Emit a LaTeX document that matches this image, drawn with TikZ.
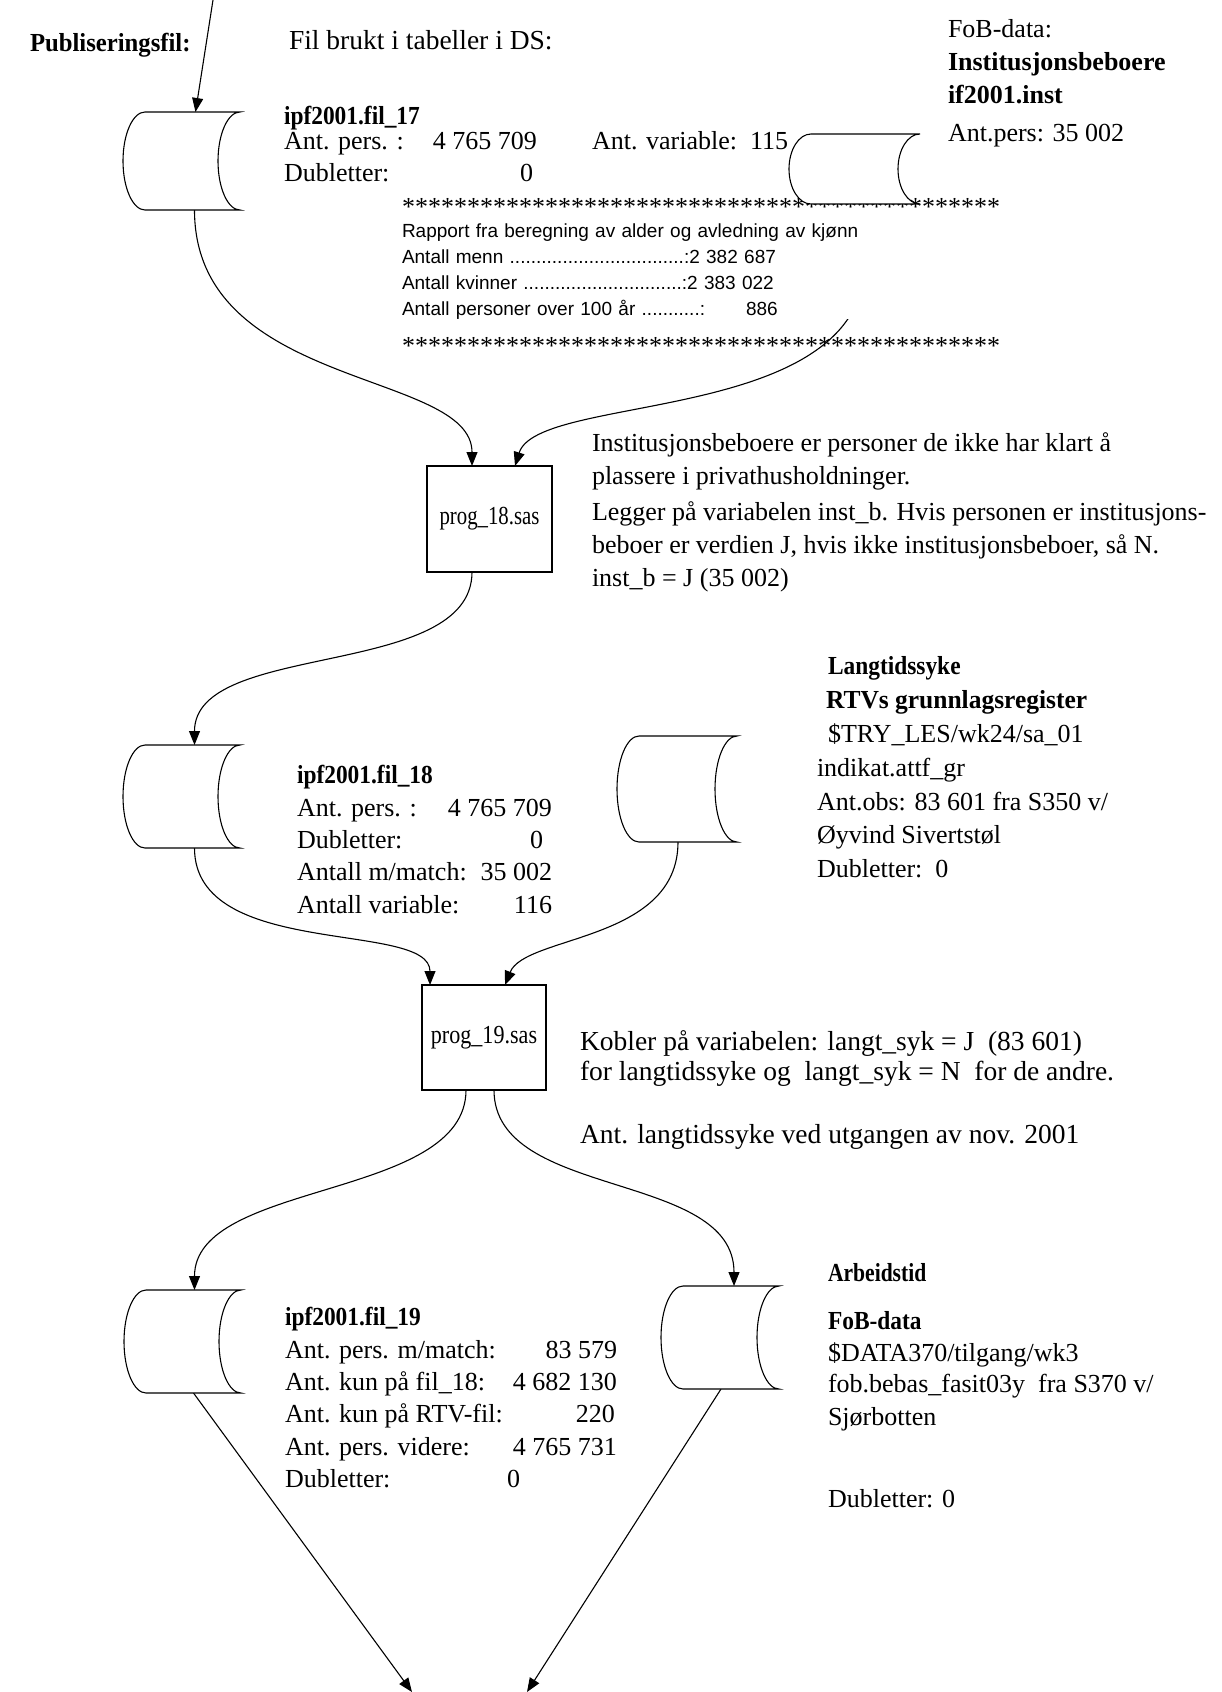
\documentclass[tikz,border=0pt]{standalone}
\usepackage{fontspec}
\usepackage{graphicx}
\setmainfont{Liberation Serif}
\setsansfont{Liberation Sans}
\usetikzlibrary{arrows.meta,calc}
\pgfdeclarelayer{bg}
\pgfsetlayers{bg,main}
\newcommand\rowlr[3]{\makebox[#1][l]{#2}\llap{#3}}
\newcommand\bt[2][0.9]{\scalebox{#1}[1]{\bfseries #2}}
% #1 node, #2 half height, #3 arc depth
\newcommand\cylshape[3]{\filldraw[cylline] ([xshift=#3]#1.north west) -- (#1.north east)
  arc[start angle=90,end angle=270,x radius=#3,y radius=#2]
  -- ([xshift=#3]#1.south west)
  arc[start angle=270,end angle=90,x radius=#3,y radius=#2] -- cycle;}
\tikzset{
  every node/.style={inner sep=0pt, outer sep=0pt},
  txt/.style={anchor=base west, align=left, font=\fontsize{26}{32}\selectfont},
  cylnode/.style={minimum width=117pt, minimum height=103pt},
  cylline/.style={fill=white, draw=black, line width=1.1pt},
  prog/.style={draw, line width=1.1pt, minimum width=125pt, minimum height=106pt, font=\fontsize{26}{32}\selectfont},
  conn/.style={line width=1.1pt, -{Triangle[length=14pt,width=11pt]}},
  rap/.style={anchor=north west, fill=white, text width=478pt, align=left, inner xsep=2pt, inner ysep=0pt, font=\sffamily\fontsize{19}{26}\selectfont},
  ast/.style={anchor=base west, font=\fontsize{26}{32}\selectfont},
}
\begin{document}
\begin{tikzpicture}[x=1pt,y=1pt]
\useasboundingbox (0,0) rectangle (1222,-1692);
% cylinder nodes
\node[cylnode, minimum height=98pt] (c1) at (181.5,-161) {};
\node[cylnode, minimum width=131pt, minimum height=70pt] (c2) at (854.5,-169) {};
\node[cylnode] (c3) at (181.5,-796.5) {};
\node[cylnode, minimum width=120pt, minimum height=106pt] (c4) at (677,-789) {};
\node[cylnode] (c5) at (182.5,-1341.5) {};
\node[cylnode, minimum width=118pt] (c6) at (720,-1337.5) {};
% process boxes
\node[prog] (p18) at (489.5,-519) {\scalebox{0.8}[1]{prog\_18.sas}};
\node[prog, minimum width=124pt, minimum height=105pt] (p19) at (484,-1037.5) {\scalebox{0.85}[1]{prog\_19.sas}};
% free ends
\coordinate (top) at (213,0);
\coordinate (e1) at (412,-1692);
\coordinate (e2) at (527,-1692);
% texts
\node[txt] (pub) at (30,-51) {\bt[0.95]{Publiseringsfil:}};
\node[txt,font=\fontsize{27.5}{32}\selectfont] (filds) at (289,-49) {Fil brukt i tabeller i DS:};
\node[txt] (t17) at (284,-181) {\bt{ipf2001.fil\_17}\\[-7pt]
  \rowlr{253pt}{Ant. pers. :}{4 765 709}\\
  \rowlr{249pt}{Dubletter:}{0}};
\node[txt] (antvar) at (592,-149) {Ant. variable:\ \ 115};
\node[txt,font=\fontsize{26}{33}\selectfont] (t2) at (948,-141.5) {FoB-data:\\
  \bt[1]{Institusjonsbeboere}\\
  \bt[1]{if2001.inst}\\[5pt]
  Ant.pers: 35 002};
\node[rap] (rap) at (400,-204) {\rule{0pt}{33pt}Rapport fra beregning av alder og avledning av kjønn\\
  Antall menn .................................:2 382 687\\
  Antall kvinner ..............................:2 383 022\\
  Antall personer over 100 år ...........:\hspace{41pt}886};
\node[ast] (ast1) at (402,-215) {**********************************************};
\node[ast] (ast2) at (402,-354) {**********************************************};
\node[txt,font=\fontsize{26}{33}\selectfont] (d18) at (592,-586.5) {Institusjonsbeboere er personer de ikke har klart å\\
  plassere i privathusholdninger.\\[3.5pt]
  Legger på variabelen inst\_b. Hvis personen er institusjons-\\
  beboer er verdien J, hvis ikke institusjonsbeboer, så N.\\
  inst\_b = J (35 002)};
\node[txt,font=\fontsize{26}{32.4}\selectfont] (t18) at (297,-913.2) {\bt{ipf2001.fil\_18}\\
  \rowlr{255pt}{Ant. pers. :}{4 765 709}\\
  \rowlr{246pt}{Dubletter:}{0}\\
  \rowlr{255pt}{Antall m/match:}{35 002}\\
  \rowlr{255pt}{Antall variable:}{116}};
\node[txt,font=\fontsize{26}{33.8}\selectfont] (tl) at (817,-877.6) {\hspace*{11pt}\bt{Langtidssyke}\\
  \hspace*{9pt}\bt[0.98]{RTVs grunnlagsregister}\\
  \hspace*{11pt}\$TRY\_LES/wk24/sa\_01\\
  indikat.attf\_gr\\
  Ant.obs: 83 601 fra S350 v/\\
  Øyvind Sivertstøl\\
  Dubletter:\ \ 0};
\node[txt,font=\fontsize{27.5}{30.3}\selectfont] (d19) at (580,-1143.2) {Kobler på variabelen: langt\_syk = J\ \ (83 601)\\
  for langtidssyke og\ \ langt\_syk = N\ \ for de andre.\\[32.3pt]
  Ant. langtidssyke ved utgangen av nov. 2001};
\node[txt,font=\fontsize{26}{32.4}\selectfont] (t19) at (285,-1487.6) {\bt{ipf2001.fil\_19}\\
  \rowlr{332pt}{Ant. pers. m/match:}{83 579}\\
  \rowlr{332pt}{Ant. kun på fil\_18:}{4 682 130}\\
  \rowlr{330pt}{Ant. kun på RTV-fil:}{220}\\
  \rowlr{332pt}{Ant. pers. videre:}{4 765 731}\\
  \makebox[222pt][l]{Dubletter:}0};
\node[txt] (ta) at (828,-1507) {\bt[0.83]{Arbeidstid}\\[15.5pt]
  \bt{FoB-data}\\
  \$DATA370/tilgang/wk3\\[-0.6pt]
  fob.bebas\_fasit03y\ \ fra S370 v/\\[0.4pt]
  Sjørbotten\\[50pt]
  Dubletter: 0};
% connectors
\begin{pgfonlayer}{bg}
\fill[white] (0,0) rectangle (1222,-1692);
\draw[conn] (top) -- ([xshift=14pt]c1.north);
\draw[conn] ([xshift=13pt]c1.south) .. controls +(0,-180) and +(0,96) .. ([xshift=-17.5pt]p18.north);
\draw[conn] (c2.south) .. controls +(80,-230) and +(25,80) .. ([xshift=25.5pt]p18.north);
\draw[conn] ([xshift=-17.5pt]p18.south) .. controls +(0,-108) and +(0,105) .. ([xshift=13pt]c3.north);
\draw[conn] ([xshift=13pt]c3.south) .. controls +(0,-112) and +(0,65) .. ([xshift=-54pt]p19.north);
\draw[conn] ([xshift=1pt]c4.south) .. controls +(0,-100) and +(20,50) .. ([xshift=21pt]p19.north);
\draw[conn] ([xshift=-18pt]p19.south) .. controls +(0,-110) and +(0,110) .. ([xshift=12pt]c5.north);
\draw[conn] ([xshift=10pt]p19.south) .. controls +(0,-110) and +(0,116) .. ([xshift=14pt]c6.north);
\draw[conn] ([xshift=11pt]c5.south) -- (e1);
\draw[conn] ([xshift=1pt]c6.south) -- (e2);
\end{pgfonlayer}
% cylinder outlines
\cylshape{c1}{49pt}{22pt}
\cylshape{c2}{35pt}{22pt}
\cylshape{c3}{51.5pt}{22pt}
\cylshape{c4}{53pt}{22pt}
\cylshape{c5}{51.5pt}{22pt}
\cylshape{c6}{51.5pt}{22pt}
\end{tikzpicture}
\end{document}
